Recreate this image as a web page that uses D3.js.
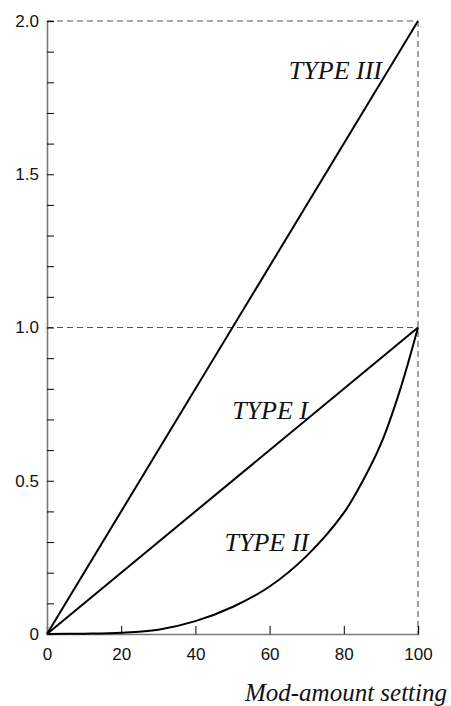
<!DOCTYPE html>
<html>
<head>
<meta charset="utf-8">
<script src="https://cdn.jsdelivr.net/npm/d3@7"></script>
<style>
  html, body { margin: 0; padding: 0; background: #fff; }
  svg { display: block; }
</style>
</head>
<body>
<svg id="chart" width="451" height="706"></svg>
<script>
// ---- data ----
const linearX = [0, 100];
const typeIII = [0, 2];
const typeI = [0, 1];
const typeIIX = [0, 10, 20, 30, 40, 50, 60, 70, 80, 85, 90, 95, 100];
const typeIIY = [0, 0.001, 0.004, 0.014, 0.042, 0.088, 0.155, 0.255, 0.395, 0.497, 0.62, 0.79, 1.0];
const xTicks = [0, 20, 40, 60, 80, 100];
const yMajor = [0, 0.5, 1.0, 1.5, 2.0];
const yMajorLabels = ["0", "0.5", "1.0", "1.5", "2.0"];
const yMinor = [0.1,0.2,0.3,0.4,0.6,0.7,0.8,0.9,1.1,1.2,1.3,1.4,1.6,1.7,1.8,1.9];
const guideLevels = [1.0, 2.0];
const curveLabels = ["TYPE III", "TYPE I", "TYPE II"];
const xTitle = "Mod-amount setting";

// ---- layout ----
const svg = d3.select("#chart");
const x = d3.scaleLinear().domain([0, 100]).range([47, 418]);
const y = d3.scaleLinear().domain([0, 2]).range([634, 21]);

// dashed guides
const dash = svg.append("g").attr("stroke", "#555").attr("stroke-width", 1.1)
  .attr("stroke-dasharray", "6,4").attr("fill", "none");
guideLevels.forEach(v => {
  dash.append("line").attr("x1", x(0)).attr("x2", x(100)).attr("y1", y(v)).attr("y2", y(v));
});
dash.append("line").attr("x1", x(100)).attr("x2", x(100)).attr("y1", y(2)).attr("y2", y(0));

// x axis
const xAxis = d3.axisBottom(x).tickValues(xTicks).tickSize(-8).tickPadding(14)
  .tickFormat(d3.format("d"));
const gx = svg.append("g").attr("transform", `translate(0,${y(0)})`).call(xAxis);
gx.select(".domain").attr("stroke", "#777").attr("stroke-width", 1.6);
gx.selectAll(".tick line").attr("stroke", "#000").attr("stroke-width", 1);
gx.selectAll(".tick text").attr("font-family", "Liberation Sans, Arial, sans-serif")
  .attr("font-size", 17).attr("fill", "#111");

// y axis major
const yAxis = d3.axisLeft(y).tickValues(yMajor).tickSize(-7).tickPadding(8)
  .tickFormat((d, i) => yMajorLabels[i]);
const gy = svg.append("g").attr("transform", `translate(${x(0)},0)`).call(yAxis);
gy.select(".domain").attr("stroke", "#777").attr("stroke-width", 1.6);
gy.selectAll(".tick line").attr("stroke", "#000").attr("stroke-width", 1)
  .filter(d => d === 0).remove();
gy.selectAll(".tick text").attr("font-family", "Liberation Sans, Arial, sans-serif")
  .attr("font-size", 17).attr("fill", "#111");
// y minor ticks
const yMinorAxis = d3.axisLeft(y).tickValues(yMinor).tickSize(-7).tickFormat("");
const gym = svg.append("g").attr("transform", `translate(${x(0)},0)`).call(yMinorAxis);
gym.select(".domain").remove();
gym.selectAll(".tick line").attr("stroke", "#000").attr("stroke-width", 1);

// curves
const line = d3.line().x(d => x(d[0])).y(d => y(d[1]));
const curveLine = d3.line().x(d => x(d[0])).y(d => y(d[1])).curve(d3.curveCatmullRom.alpha(0.5));
const lines = svg.append("g").attr("fill", "none").attr("stroke", "#000").attr("stroke-width", 2);
lines.append("path").attr("d", line(linearX.map((v, i) => [v, typeIII[i]])));
lines.append("path").attr("d", line(linearX.map((v, i) => [v, typeI[i]])));
lines.append("path").attr("d", curveLine(typeIIX.map((v, i) => [v, typeIIY[i]])));

// curve labels
const labelPos = [[382, 79], [308, 419], [309, 551]];
const lab = svg.append("g").attr("font-family", "Liberation Serif, Times New Roman, serif")
  .attr("font-style", "italic").attr("font-size", 26).attr("fill", "#111")
  .attr("text-anchor", "end");
curveLabels.forEach((t, i) => {
  lab.append("text").attr("x", labelPos[i][0]).attr("y", labelPos[i][1]).text(t);
});

// x title
svg.append("text").attr("x", 447).attr("y", 701)
  .attr("font-family", "Liberation Serif, Times New Roman, serif")
  .attr("font-style", "italic").attr("font-size", 25).attr("fill", "#111")
  .attr("text-anchor", "end").text(xTitle);
</script>
</body>
</html>
